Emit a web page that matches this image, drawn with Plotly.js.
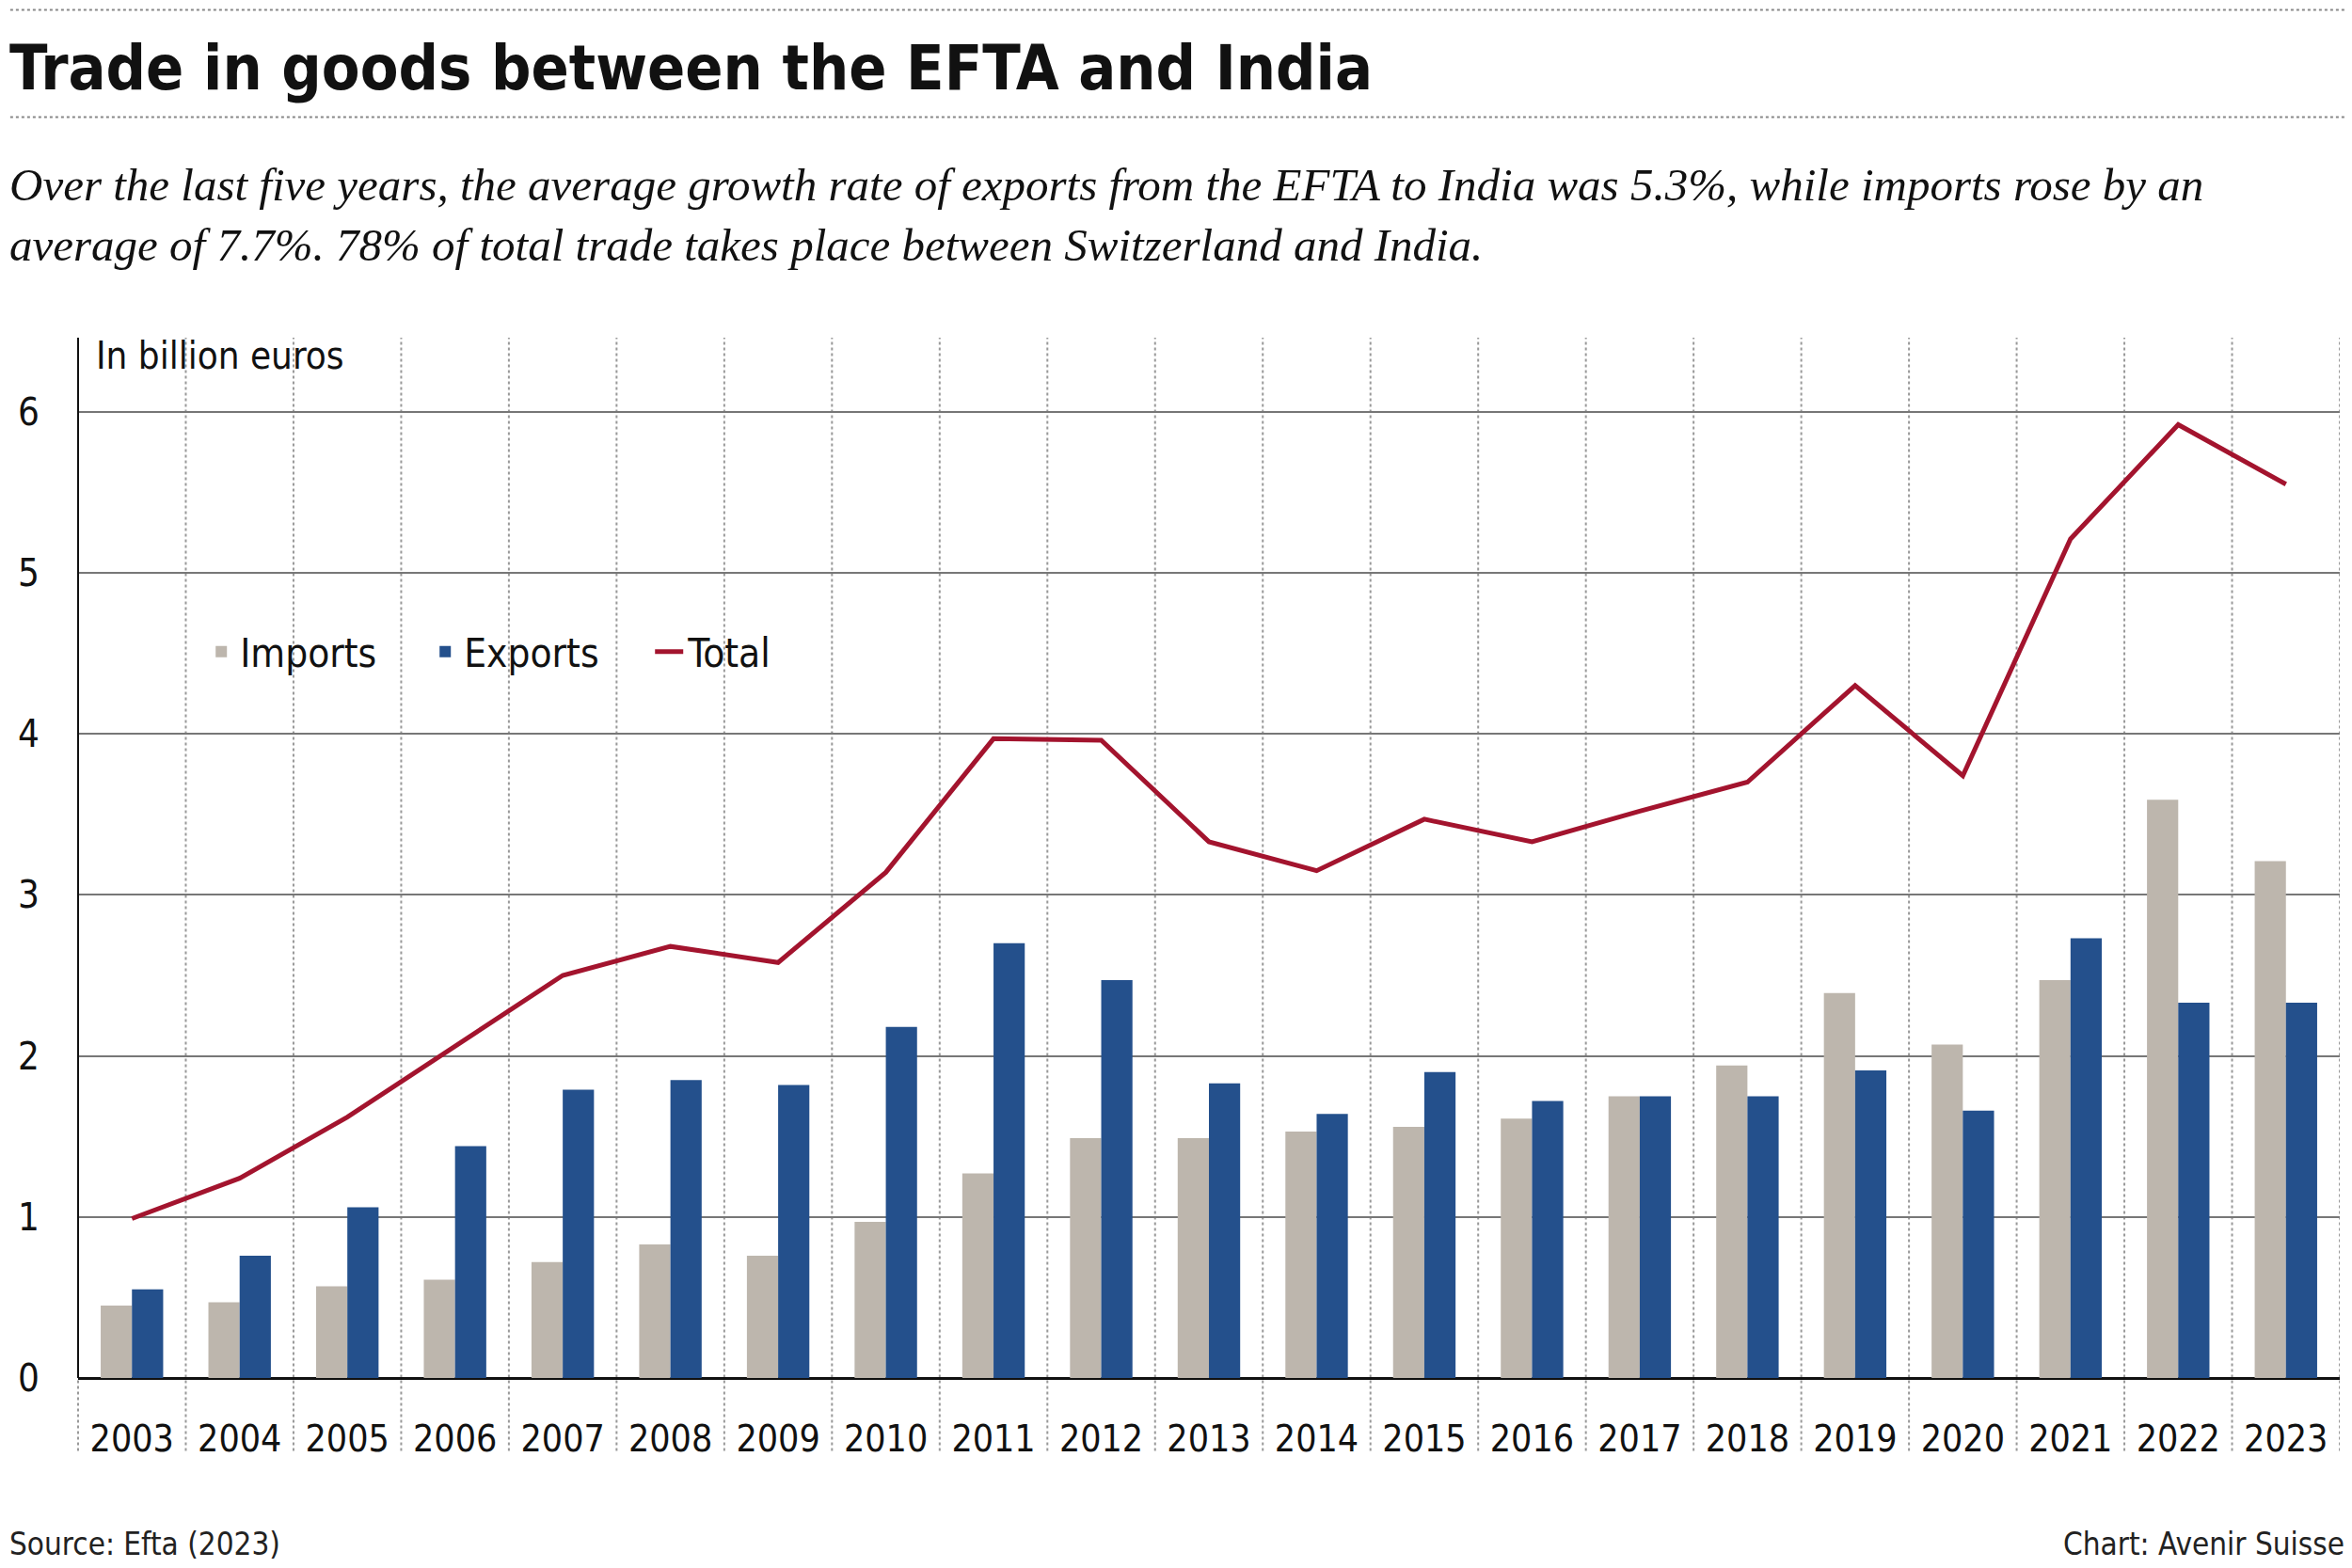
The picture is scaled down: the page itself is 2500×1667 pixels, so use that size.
<!DOCTYPE html>
<html><head><meta charset="utf-8">
<script src="https://cdn.plot.ly/plotly-3.0.1.min.js"></script>
<style>body{margin:0;background:#fff}</style>
</head><body>
<div id="chart" style="width:2500px;height:1667px"></div>
<script>
const years = ['2003','2004','2005','2006','2007','2008','2009','2010','2011','2012','2013','2014','2015','2016','2017','2018','2019','2020','2021','2022','2023'];
const imports = [0.45,0.47,0.57,0.61,0.72,0.83,0.76,0.97,1.27,1.49,1.49,1.53,1.56,1.61,1.75,1.94,2.39,2.07,2.47,3.59,3.21];
const exportsV = [0.55,0.76,1.06,1.44,1.79,1.85,1.82,2.18,2.70,2.47,1.83,1.64,1.90,1.72,1.75,1.75,1.91,1.66,2.73,2.33,2.33];
const total = [0.99,1.24,1.62,2.06,2.50,2.68,2.58,3.14,3.97,3.96,3.33,3.15,3.47,3.33,3.52,3.70,4.30,3.74,5.21,5.92,5.55];

const F = '"DejaVu Sans Condensed", "DejaVu Sans", sans-serif';
const traces = [
  {type:'bar', name:'Imports', x:years, y:imports, marker:{color:'#bdb6ad'}},
  {type:'bar', name:'Exports', x:years, y:exportsV, marker:{color:'#24508c'}},
  {type:'scatter', mode:'lines', name:'Total', x:years, y:total, line:{color:'#a3142e', width:5}}
];

const shapes = [
  {type:'line', xref:'paper', yref:'paper', x0:-0.03, x1:1.003, y0:1.315, y1:1.315, line:{color:'#888', width:2, dash:'dot'}},
  {type:'line', xref:'paper', yref:'paper', x0:-0.03, x1:1.003, y0:1.212, y1:1.212, line:{color:'#888', width:2, dash:'dot'}},
  {type:'line', xref:'paper', yref:'paper', x0:0, x1:0, y0:-0.07, y1:1.0, line:{color:'#999', width:2, dash:'dot'}},
  {type:'line', xref:'paper', yref:'paper', x0:0, x1:0, y0:0, y1:1.0, line:{color:'#111', width:2}}
];
// dotted separators between years, extending below axis
for (let i = 1; i <= years.length; i++) {
  shapes.push({type:'line', xref:'x', yref:'paper', x0:i-0.5, x1:i-0.5, y0:-0.07, y1:1.0,
    line:{color:'#999', width:2, dash:'dot'}, layer:'below'});
}

const layout = {
  width:2500, height:1667,
  margin:{l:83, r:13, t:359, b:202},
  paper_bgcolor:'#fff', plot_bgcolor:'#fff',
  barmode:'group', bargap:0.42, bargroupgap:0,
  font:{family:F, color:'#111', size:40},
  title:{text:'Trade in goods between the EFTA and India', x:0.004, xanchor:'left', y:0.957, yanchor:'middle',
    font:{family:F, size:66, weight:'bold', color:'#111'}},
  xaxis:{type:'category', showgrid:false, ticks:'', tickfont:{size:39}, range:[-0.5, 20.5],
    showline:false, zeroline:false, ticklabelstandoff:38},
  yaxis:{range:[0,6.46], tickvals:[0,1,2,3,4,5,6], showgrid:true, gridcolor:'#777', gridwidth:1.5,
    zeroline:true, zerolinecolor:'#111', zerolinewidth:3, showline:false, ticks:'', tickfont:{size:40},
    ticklabelstandoff:40},
  showlegend:true,
  legend:{orientation:'h', x:0.055, y:0.698, xanchor:'left', yanchor:'middle', font:{size:42},
    bgcolor:'rgba(0,0,0,0)', traceorder:'normal', entrywidth:193, entrywidthmode:'pixels'},
  shapes: shapes,
  annotations:[
    {xref:'paper', yref:'paper', x:-0.031, y:1.118, xanchor:'left', yanchor:'middle', showarrow:false, align:'left',
     text:'<i>Over the last five years, the average growth rate of exports from the EFTA to India was 5.3%, while imports rose by an<br>average of 7.7%. 78% of total trade takes place between Switzerland and India.</i>',
     font:{family:'"Liberation Serif", serif', size:49, color:'#111'}},
    {xref:'paper', yref:'paper', x:0.007, y:0.983, xanchor:'left', yanchor:'middle', showarrow:false,
     text:'In billion euros', font:{size:40}},
    {xref:'paper', yref:'paper', x:-0.031, y:-0.16, xanchor:'left', yanchor:'middle', showarrow:false,
     text:'Source: Efta (2023)', font:{size:33, color:'#222'}},
    {xref:'paper', yref:'paper', x:1.003, y:-0.16, xanchor:'right', yanchor:'middle', showarrow:false,
     text:'Chart: Avenir Suisse', font:{size:33, color:'#222'}}
  ]
};
Plotly.newPlot('chart', traces, layout, {displayModeBar:false});
</script>
</body></html>
